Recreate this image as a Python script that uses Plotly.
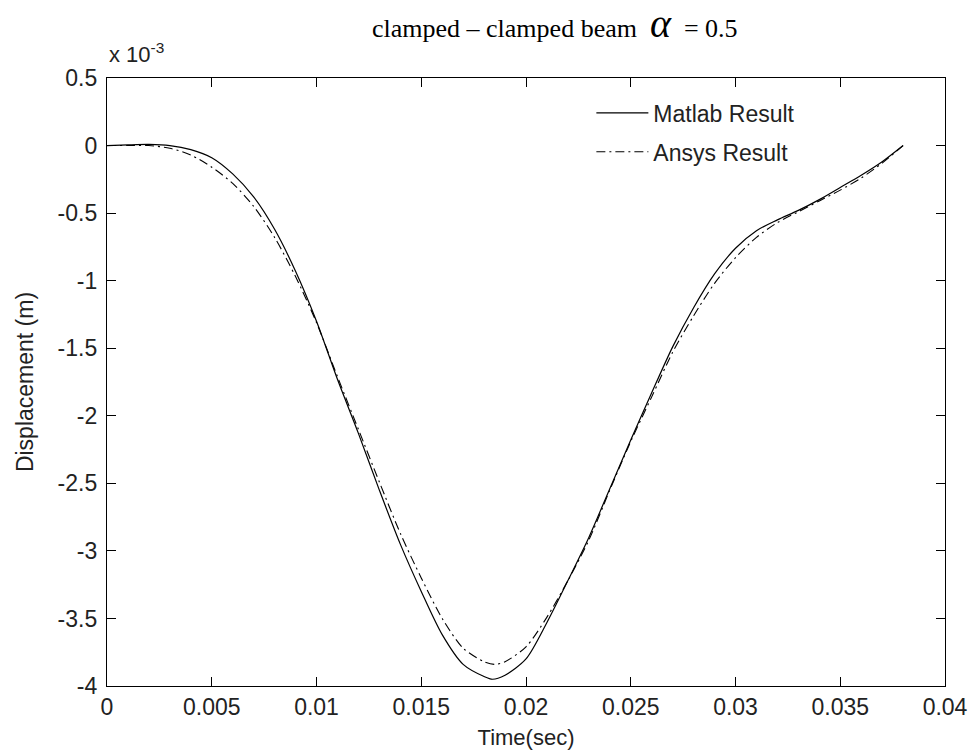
import plotly.graph_objects as go

# ---- data (displacement in units of 1e-3 m) ----
t_matlab = [0, 0.001, 0.002, 0.003, 0.004, 0.005, 0.006, 0.007, 0.008, 0.009,
            0.010, 0.011, 0.012, 0.013, 0.014, 0.015, 0.016, 0.017, 0.018, 0.0184,
            0.019, 0.020, 0.021, 0.022, 0.023, 0.024, 0.025, 0.026, 0.027, 0.028,
            0.029, 0.030, 0.031, 0.032, 0.033, 0.034, 0.035, 0.036, 0.037, 0.038]
d_matlab = [0.0, 0.005, 0.008, 0.0, -0.03, -0.09, -0.21, -0.38, -0.62, -0.93,
            -1.30, -1.73, -2.13, -2.55, -2.95, -3.30, -3.62, -3.84, -3.93, -3.95,
            -3.92, -3.80, -3.53, -3.22, -2.90, -2.54, -2.18, -1.83, -1.49, -1.20,
            -0.95, -0.76, -0.63, -0.55, -0.48, -0.40, -0.31, -0.22, -0.12, 0.0]

t_ansys = [0, 0.001, 0.002, 0.003, 0.004, 0.005, 0.006, 0.007, 0.008, 0.009,
           0.010, 0.011, 0.012, 0.013, 0.014, 0.015, 0.016, 0.017, 0.018, 0.0185,
           0.019, 0.020, 0.021, 0.022, 0.023, 0.024, 0.025, 0.026, 0.027, 0.028,
           0.029, 0.030, 0.031, 0.032, 0.033, 0.034, 0.035, 0.036, 0.037, 0.038]
d_ansys = [0.0, 0.0, 0.0, -0.02, -0.07, -0.16, -0.28, -0.45, -0.68, -0.97,
           -1.31, -1.71, -2.10, -2.49, -2.87, -3.20, -3.50, -3.72, -3.82, -3.84,
           -3.82, -3.71, -3.49, -3.22, -2.92, -2.55, -2.19, -1.86, -1.53, -1.26,
           -1.02, -0.83, -0.68, -0.57, -0.49, -0.41, -0.33, -0.24, -0.13, 0.0]

x_ticks = [0, 0.005, 0.01, 0.015, 0.02, 0.025, 0.03, 0.035, 0.04]
x_tick_text = ["0", "0.005", "0.01", "0.015", "0.02", "0.025", "0.03", "0.035", "0.04"]
y_ticks = [0.5, 0, -0.5, -1, -1.5, -2, -2.5, -3, -3.5, -4]
y_tick_text = ["0.5", "0", "-0.5", "-1", "-1.5", "-2", "-2.5", "-3", "-3.5", "-4"]

title_text = "clamped – clamped beam  <span style='font-size:40px'><i>α</i></span>  = 0.5"
SANS = "Liberation Sans, Arial, sans-serif"

fig = go.Figure()
fig.add_trace(go.Scatter(x=t_matlab, y=d_matlab, mode="lines", name="Matlab Result",
                         legendgroup="a",
                         line=dict(color="black", width=1.2, shape="spline", smoothing=0.8)))
fig.add_trace(go.Scatter(x=t_ansys, y=d_ansys, mode="lines", name="Ansys Result",
                         legendgroup="b",
                         line=dict(color="black", width=1.1, dash="9px,4px,2px,4px",
                                   shape="spline", smoothing=0.8)))

axis_common = dict(showline=True, linecolor="black", linewidth=1.3, mirror="ticks",
                   ticks="inside", ticklen=9, tickwidth=1.3, tickcolor="black",
                   showgrid=False, zeroline=False, automargin=False,
                   tickfont=dict(family=SANS, size=23, color="#222"))

fig.update_xaxes(range=[0, 0.04], tickvals=x_ticks, ticktext=x_tick_text,
                 title=dict(text="Time(sec)", font=dict(family=SANS, size=22, color="#222"),
                            standoff=10),
                 **axis_common)
fig.update_yaxes(range=[-4, 0.5], tickvals=y_ticks, ticktext=y_tick_text,
                 title=dict(text="Displacement (m)", font=dict(family=SANS, size=23, color="#222"),
                            standoff=17),
                 ticklabelstandoff=4,
                 **axis_common)

fig.add_annotation(text=title_text, xref="paper", yref="paper", x=0.535, y=1.089,
                   xanchor="center", yanchor="middle", showarrow=False,
                   font=dict(family="Liberation Serif, Times New Roman, serif", size=26,
                             color="black"))
fig.add_annotation(text="x 10<sup>-3</sup>", xref="paper", yref="paper", x=0.0, y=1.015,
                   xanchor="left", yanchor="bottom", showarrow=False,
                   font=dict(family=SANS, size=22, color="#222"))

fig.update_layout(
    width=972, height=751,
    margin=dict(l=107, r=27, t=78, b=65),
    paper_bgcolor="white", plot_bgcolor="white",
    showlegend=True,
    legend=dict(x=0.578, y=0.978, xanchor="left", yanchor="top",
                bgcolor="rgba(0,0,0,0)", borderwidth=0,
                font=dict(family=SANS, size=23, color="#222"),
                tracegroupgap=6, itemwidth=52),
)

fig.write_html("out.html")
